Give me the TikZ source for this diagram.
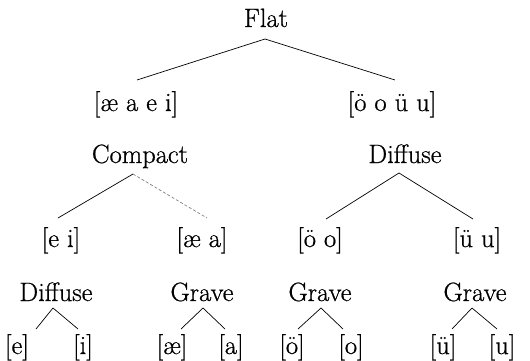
\documentclass[tikz,border=0pt]{standalone}
\usepackage{fontspec}
\newfontfamily\heavylm{Latin Modern Roman}[FakeBold=0.7]
\usetikzlibrary{calc}
\begin{document}
\begin{tikzpicture}[x=1pt,y=-1pt,
  lbl/.style={anchor=base,inner sep=0pt,font=\heavylm\fontsize{26.5}{30}\selectfont},
  edge/.style={line width=0.7pt,black},
  faded/.style={line width=0.7pt,gray,densely dashed}]
\useasboundingbox (0,0) rectangle (530,361);
% nodes
\node[lbl] (flat) at (266,27) {Flat};
\node[lbl] (aeei) at (136,111) {[æ a e i]};
\node[lbl] (oouu) at (392,111) {[ö o ü u]};
\node[lbl] (compact) at (140,163) {Compact};
\node[lbl] (diffA) at (405,163) {Diffuse};
\node[lbl] (ei) at (61,247) {[e i]};
\node[lbl] (aea) at (202,247) {[æ a]};
\node[lbl] (oeo) at (320,247) {[ö o]};
\node[lbl] (ueu) at (477,247) {[ü u]};
\node[lbl] (diffB) at (56,301) {Diffuse};
\node[lbl] (graveA) at (202,301) {Grave};
\node[lbl] (graveB) at (320,301) {Grave};
\node[lbl] (graveC) at (475,301) {Grave};
\node[lbl] (e) at (17,354) {[e]};
\node[lbl] (i) at (83,354) {[i]};
\node[lbl] (ae) at (172,354) {[æ]};
\node[lbl] (a) at (231,354) {[a]};
\node[lbl] (oe) at (292,354) {[ö]};
\node[lbl] (o) at (351,354) {[o]};
\node[lbl] (ue) at (443,354) {[ü]};
\node[lbl] (u) at (502,354) {[u]};
% connector end points
\coordinate (flatT) at ($(flat.base)+(-1,12)$);
\coordinate (aeeiT) at ($(aeei.base)+(1,-31)$);
\coordinate (oouuT) at ($(oouu.base)+(3,-31)$);
\coordinate (compactT) at ($(compact.base)+(-7,11)$);
\coordinate (eiT) at ($(ei.base)+(-3,-29)$);
\coordinate (aeaT) at ($(aea.base)+(5,-29)$);
\coordinate (diffAT) at ($(diffA.base)+(-6,10)$);
\coordinate (oeoT) at ($(oeo.base)+(6,-28)$);
\coordinate (ueuT) at ($(ueu.base)+(-4,-28)$);
\coordinate (diffBT) at ($(diffB.base)+(-3,7)$);
\coordinate (graveAT) at ($(graveA.base)+(1,7)$);
\coordinate (graveBT) at ($(graveB.base)+(1,7)$);
\coordinate (graveCT) at ($(graveC.base)+(-3,7)$);
\coordinate (eT) at ($(e.base)+(19,-25)$);
\coordinate (iT) at ($(i.base)+(-5,-25)$);
\coordinate (aeT) at ($(ae.base)+(9,-25)$);
\coordinate (aT) at ($(a.base)+(-6,-25)$);
\coordinate (oeT) at ($(oe.base)+(6,-25)$);
\coordinate (oT) at ($(o.base)+(-8,-25)$);
\coordinate (ueT) at ($(ue.base)+(9,-25)$);
\coordinate (uT) at ($(u.base)+(-5,-25)$);
% connectors
\draw[edge] (flatT) -- (aeeiT);
\draw[edge] (flatT) -- (oouuT);
\draw[edge] (compactT) -- (eiT);
\draw[faded] (compactT) -- (aeaT);
\draw[edge] (diffAT) -- (oeoT);
\draw[edge] (diffAT) -- (ueuT);
\draw[edge] (diffBT) -- (eT);
\draw[edge] (diffBT) -- (iT);
\draw[edge] (graveAT) -- (aeT);
\draw[edge] (graveAT) -- (aT);
\draw[edge] (graveBT) -- (oeT);
\draw[edge] (graveBT) -- (oT);
\draw[edge] (graveCT) -- (ueT);
\draw[edge] (graveCT) -- (uT);
\end{tikzpicture}
\end{document}
